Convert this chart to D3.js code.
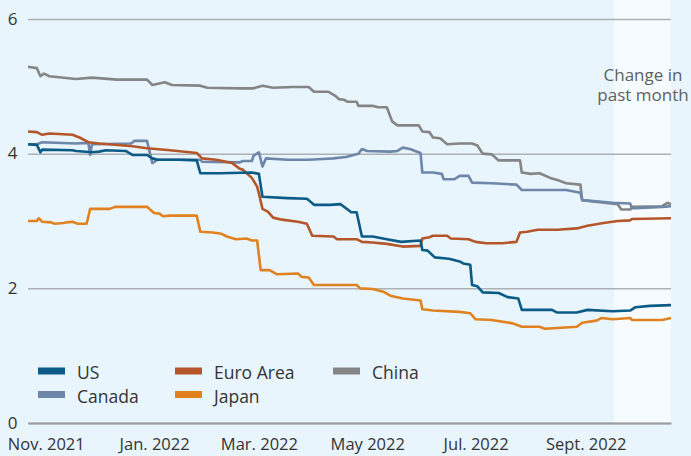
<!DOCTYPE html>
<html>
<head>
<meta charset="utf-8">
<script src="https://cdn.jsdelivr.net/npm/d3@7"></script>
<style>
  body { margin: 0; background: #e8f5fc; }
  svg { display: block; font-family: "Open Sans", "Noto Sans", sans-serif; }
</style>
</head>
<body>
<div id="chart"></div>
<script>
// growth forecasts (date, value)
var usData = [
  ["2021-10-22",4.14],["2021-10-27",4.13],["2021-10-29",4.02],["2021-10-30",4.06],["2021-11-16",4.05],
  ["2021-11-18",4.04],["2021-11-27",4.02],["2021-12-01",4.03],["2021-12-05",4.05],["2021-12-16",4.04],
  ["2021-12-20",3.98],["2021-12-28",3.98],["2021-12-31",3.93],["2022-01-03",3.91],["2022-01-15",3.91],
  ["2022-01-25",3.90],["2022-01-27",3.71],["2022-02-07",3.71],["2022-02-25",3.72],["2022-03-01",3.70],
  ["2022-03-03",3.36],["2022-03-17",3.34],["2022-03-28",3.33],["2022-03-29",3.31],["2022-04-01",3.24],
  ["2022-04-10",3.24],["2022-04-16",3.25],["2022-04-19",3.19],["2022-04-22",3.13],["2022-04-25",3.13],
  ["2022-04-28",2.77],["2022-05-04",2.77],["2022-05-12",2.73],["2022-05-20",2.69],["2022-05-31",2.71],
  ["2022-06-01",2.57],["2022-06-04",2.56],["2022-06-08",2.46],["2022-06-16",2.44],["2022-06-22",2.40],
  ["2022-06-24",2.37],["2022-06-28",2.35],["2022-06-29",2.05],["2022-07-02",2.03],["2022-07-05",1.94],
  ["2022-07-14",1.93],["2022-07-19",1.87],["2022-07-25",1.85],["2022-07-27",1.68],["2022-08-13",1.68],
  ["2022-08-16",1.64],["2022-08-27",1.64],["2022-09-02",1.68],["2022-09-16",1.66],["2022-09-26",1.67],
  ["2022-09-29",1.72],["2022-10-07",1.74],["2022-10-19",1.75]
]
var euroData = [
  ["2021-10-22",4.33],["2021-10-27",4.32],["2021-10-30",4.28],["2021-11-03",4.30],["2021-11-16",4.28],
  ["2021-11-20",4.24],["2021-11-25",4.17],["2021-12-01",4.15],["2021-12-20",4.11],["2021-12-28",4.08],
  ["2022-01-10",4.05],["2022-01-25",4.01],["2022-01-28",3.93],["2022-02-05",3.91],["2022-02-14",3.86],
  ["2022-02-18",3.78],["2022-02-20",3.76],["2022-02-25",3.64],["2022-02-28",3.51],["2022-03-01",3.41],
  ["2022-03-03",3.18],["2022-03-06",3.14],["2022-03-09",3.05],["2022-03-14",3.02],["2022-03-23",2.99],
  ["2022-03-28",2.96],["2022-03-31",2.78],["2022-04-12",2.77],["2022-04-14",2.73],["2022-04-25",2.73],
  ["2022-04-28",2.69],["2022-05-04",2.68],["2022-05-12",2.66],["2022-05-21",2.62],["2022-05-31",2.63],
  ["2022-06-01",2.74],["2022-06-05",2.76],["2022-06-07",2.78],["2022-06-15",2.78],["2022-06-17",2.74],
  ["2022-06-27",2.73],["2022-07-01",2.69],["2022-07-07",2.67],["2022-07-16",2.67],["2022-07-24",2.69],
  ["2022-07-26",2.83],["2022-07-30",2.84],["2022-08-05",2.87],["2022-08-16",2.87],["2022-08-27",2.89],
  ["2022-09-02",2.93],["2022-09-11",2.97],["2022-09-19",3.00],["2022-09-26",3.01],["2022-09-27",3.03],
  ["2022-10-19",3.04]
]
var chinaData = [
  ["2021-10-22",5.29],["2021-10-27",5.27],["2021-10-29",5.15],["2021-10-31",5.19],["2021-11-03",5.15],
  ["2021-11-18",5.11],["2021-11-27",5.13],["2021-12-11",5.10],["2021-12-28",5.10],["2021-12-31",5.02],
  ["2022-01-07",5.06],["2022-01-11",5.02],["2022-01-27",5.01],["2022-01-31",4.98],["2022-02-18",4.97],
  ["2022-02-26",4.97],["2022-03-03",5.01],["2022-03-09",4.98],["2022-03-20",4.99],["2022-03-29",4.99],
  ["2022-04-01",4.92],["2022-04-09",4.92],["2022-04-13",4.86],["2022-04-15",4.81],["2022-04-18",4.80],
  ["2022-04-20",4.77],["2022-04-25",4.77],["2022-04-26",4.71],["2022-05-04",4.71],["2022-05-07",4.69],
  ["2022-05-12",4.69],["2022-05-15",4.48],["2022-05-18",4.42],["2022-05-30",4.42],["2022-06-01",4.33],
  ["2022-06-05",4.32],["2022-06-07",4.24],["2022-06-11",4.23],["2022-06-15",4.14],["2022-06-22",4.15],
  ["2022-06-29",4.15],["2022-07-02",4.12],["2022-07-05",4.00],["2022-07-10",3.99],["2022-07-14",3.90],
  ["2022-07-26",3.90],["2022-07-27",3.72],["2022-08-01",3.70],["2022-08-06",3.71],["2022-08-12",3.64],
  ["2022-08-17",3.60],["2022-08-21",3.56],["2022-08-29",3.54],["2022-08-30",3.31],["2022-09-05",3.29],
  ["2022-09-19",3.25],["2022-09-21",3.17],["2022-09-26",3.17],["2022-09-27",3.21],["2022-10-14",3.22],
  ["2022-10-17",3.27],["2022-10-19",3.25]
]
var canadaData = [
  ["2021-10-22",4.14],["2021-10-27",4.14],["2021-10-30",4.17],["2021-11-18",4.15],["2021-11-25",4.16],
  ["2021-11-26",3.98],["2021-11-27",4.14],["2021-12-19",4.15],["2021-12-21",4.19],["2021-12-28",4.19],
  ["2021-12-31",3.86],["2022-01-03",3.91],["2022-01-27",3.91],["2022-01-28",3.88],["2022-02-18",3.87],
  ["2022-02-20",3.89],["2022-02-25",3.89],["2022-02-26",3.97],["2022-03-01",4.02],["2022-03-03",3.81],
  ["2022-03-05",3.93],["2022-03-17",3.91],["2022-03-29",3.91],["2022-04-06",3.92],["2022-04-12",3.93],
  ["2022-04-19",3.95],["2022-04-26",4.00],["2022-04-28",4.07],["2022-05-01",4.04],["2022-05-14",4.03],
  ["2022-05-18",4.04],["2022-05-21",4.09],["2022-05-25",4.07],["2022-05-31",4.01],["2022-06-01",3.72],
  ["2022-06-07",3.72],["2022-06-12",3.70],["2022-06-13",3.62],["2022-06-19",3.62],["2022-06-22",3.67],
  ["2022-06-27",3.67],["2022-06-29",3.57],["2022-07-10",3.56],["2022-07-24",3.54],["2022-07-27",3.46],
  ["2022-08-21",3.46],["2022-08-29",3.42],["2022-08-30",3.31],["2022-09-16",3.27],["2022-09-26",3.26],
  ["2022-09-27",3.19],["2022-09-29",3.19],["2022-10-14",3.21],["2022-10-19",3.22]
]
var japanData = [
  ["2021-10-22",3.00],["2021-10-27",3.00],["2021-10-28",3.04],["2021-10-30",2.99],["2021-11-04",2.98],
  ["2021-11-06",2.96],["2021-11-11",2.97],["2021-11-13",2.98],["2021-11-16",2.99],["2021-11-19",2.96],
  ["2021-11-24",2.96],["2021-11-26",3.18],["2021-12-07",3.18],["2021-12-10",3.21],["2021-12-28",3.21],
  ["2022-01-01",3.12],["2022-01-04",3.11],["2022-01-06",3.07],["2022-01-10",3.08],["2022-01-25",3.08],
  ["2022-01-27",2.84],["2022-02-03",2.83],["2022-02-08",2.81],["2022-02-11",2.77],["2022-02-16",2.73],
  ["2022-02-22",2.74],["2022-02-25",2.71],["2022-02-28",2.71],["2022-03-02",2.27],["2022-03-07",2.27],
  ["2022-03-11",2.21],["2022-03-23",2.22],["2022-03-25",2.17],["2022-03-29",2.16],["2022-04-01",2.05],
  ["2022-04-25",2.05],["2022-04-27",2.00],["2022-05-04",1.99],["2022-05-10",1.95],["2022-05-14",1.89],
  ["2022-05-21",1.85],["2022-05-31",1.82],["2022-06-01",1.69],["2022-06-07",1.67],["2022-06-22",1.65],
  ["2022-06-28",1.63],["2022-07-01",1.54],["2022-07-10",1.53],["2022-07-22",1.48],["2022-07-27",1.43],
  ["2022-08-06",1.43],["2022-08-09",1.40],["2022-08-16",1.41],["2022-08-27",1.43],["2022-08-30",1.49],
  ["2022-09-07",1.52],["2022-09-10",1.56],["2022-09-16",1.54],["2022-09-26",1.56],["2022-09-27",1.53],
  ["2022-10-14",1.53],["2022-10-19",1.56]
]

var seriesNames = ["China", "Canada", "Euro Area", "Japan", "US"]
var seriesData = [chinaData, canadaData, euroData, japanData, usData]
var seriesColors = ["#858585", "#6d86aa", "#b5552a", "#e0821f", "#0b5b86"]

var legendRows = [["US", "Euro Area", "China"], ["Canada", "Japan"]]

var tickDates = ["2021-11-01", "2022-01-01", "2022-03-01", "2022-05-01", "2022-07-01", "2022-09-01"]
var tickLabels = ["Nov. 2021", "Jan. 2022", "Mar. 2022", "May 2022", "Jul. 2022", "Sept. 2022"]
var yTicks = [0, 2, 4, 6]
var shadeStart = "2022-09-17"
var dateStart = "2021-10-22"
var dateEnd = "2022-10-19"

var parse = d3.timeParse("%Y-%m-%d")

var dimensions = {
    width: 691,
    height: 456,
    margin: { top: 19, bottom: 33, left: 28, right: 20 }
}
var plotW = dimensions.width - dimensions.margin.left - dimensions.margin.right
var plotBottom = dimensions.height - dimensions.margin.bottom

var svg = d3.select("#chart")
    .append("svg")
    .attr("width", dimensions.width)
    .attr("height", dimensions.height)

svg.append("rect")
    .attr("width", dimensions.width)
    .attr("height", dimensions.height)
    .attr("fill", "#e8f5fc")

var x = d3.scaleTime()
    .domain([parse(dateStart), parse(dateEnd)])
    .range([dimensions.margin.left, dimensions.margin.left + plotW])

var y = d3.scaleLinear()
    .domain([0, 6])
    .range([plotBottom, dimensions.margin.top])

// shaded "past month" band
svg.append("rect")
    .attr("x", x(parse(shadeStart)))
    .attr("y", 0)
    .attr("width", x(parse(dateEnd)) - x(parse(shadeStart)))
    .attr("height", plotBottom)
    .attr("fill", "#f5fbfe")

// gridlines + y labels
var yAxis = svg.append("g")
    .attr("transform", "translate(" + dimensions.margin.left + ",0)")
    .call(d3.axisLeft(y).tickValues(yTicks).tickSize(-plotW).tickFormat(d3.format("d")))
yAxis.select(".domain").remove()
yAxis.selectAll("line").attr("stroke", "#aeb1b4").attr("stroke-width", 1.5)
yAxis.selectAll("text")
    .attr("x", -10.5)
    .attr("dy", "0.3em")
    .attr("fill", "#333")
    .style("font-size", "17px")
    .style("font-family", "'Open Sans', sans-serif")

// x axis
var xAxis = svg.append("g")
    .attr("transform", "translate(0," + plotBottom + ")")
    .call(d3.axisBottom(x)
        .tickValues(tickDates.map(parse))
        .tickSize(0)
        .tickFormat(function (d, i) { return tickLabels[i] }))
xAxis.select(".domain").attr("stroke", "#9a9c9e").attr("stroke-width", 2)
xAxis.selectAll("text")
    .attr("y", 26.5)
    .attr("dy", 0)
    .attr("fill", "#333")
    .style("font-size", "16.5px")
    .style("font-family", "'Open Sans', sans-serif")

// lines
var line = d3.line()
    .x(function (d) { return x(parse(d[0])) })
    .y(function (d) { return y(d[1]) })

for (var i = 0; i < seriesData.length; i++) {
    svg.append("path")
        .datum(seriesData[i])
        .attr("d", line)
        .attr("fill", "none")
        .attr("stroke", seriesColors[i])
        .attr("stroke-width", 2.6)
        .attr("stroke-linejoin", "round")
}

// annotation
var note = svg.append("text")
    .attr("text-anchor", "middle")
    .attr("fill", "#5f5f5f")
    .style("font-size", "17px")
note.append("tspan").attr("x", 643).attr("y", 81).text("Change in")
note.append("tspan").attr("x", 643).attr("y", 101).text("past month")

// legend
var legendX = [38, 175, 333]
var legendY = [371, 394.5]
var legend = svg.append("g")
for (var r = 0; r < legendRows.length; r++) {
    for (var c = 0; c < legendRows[r].length; c++) {
        var name = legendRows[r][c]
        var col = seriesColors[seriesNames.indexOf(name)]
        legend.append("rect")
            .attr("x", legendX[c])
            .attr("y", legendY[r] - 3.5)
            .attr("width", 27)
            .attr("height", 7)
            .attr("fill", col)
        legend.append("text")
            .attr("x", legendX[c] + 39)
            .attr("y", legendY[r] + 8)
            .attr("fill", "#333")
            .style("font-size", "17.5px")
            .text(name)
    }
}
</script>
</body>
</html>
